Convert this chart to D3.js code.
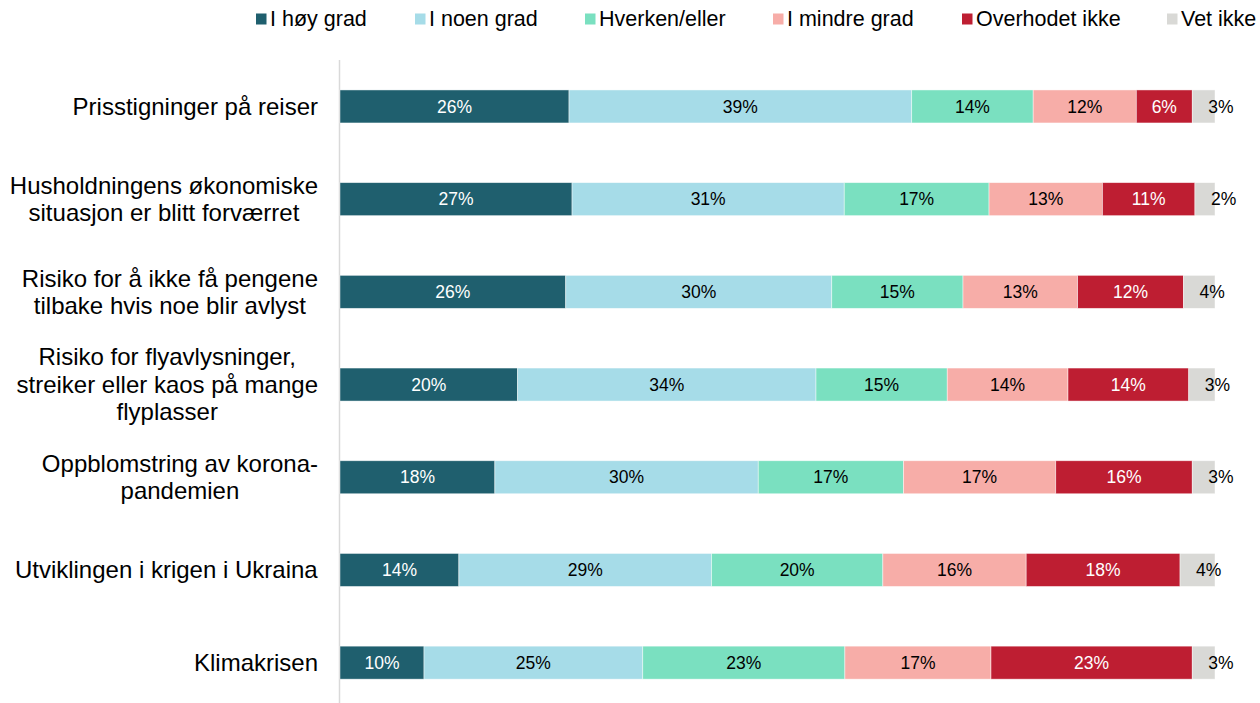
<!DOCTYPE html>
<html>
<head>
<meta charset="utf-8">
<script src="https://cdn.jsdelivr.net/npm/d3@7/dist/d3.min.js"></script>
<style>
  html, body { margin: 0; padding: 0; background: #fff; }
  svg { display: block; font-family: "Liberation Sans", Arial, sans-serif; }
</style>
</head>
<body>
<svg id="chart" width="1260" height="703"></svg>
<script>
const categories = [
  ["Prisstigninger på reiser"],
  ["Husholdningens økonomiske", "situasjon er blitt forværret"],
  ["Risiko for å ikke få pengene", "tilbake hvis noe blir avlyst"],
  ["Risiko for flyavlysninger,", "streiker eller kaos på mange", "flyplasser"],
  ["Oppblomstring av korona-", "pandemien"],
  ["Utviklingen i krigen i Ukraina"],
  ["Klimakrisen"]
];
const seriesNames = ["I høy grad", "I noen grad", "Hverken/eller", "I mindre grad", "Overhodet ikke", "Vet ikke"];
const hoyGrad      = [26.2, 26.6, 25.8, 20.3, 17.7, 13.6, 9.6];
const noenGrad     = [39.2, 31.2, 30.4, 34.1, 30.1, 28.9, 25.0];
const hverkenEller = [13.9, 16.6, 15.0, 15.0, 16.6, 19.6, 23.1];
const mindreGrad   = [11.8, 13.0, 13.1, 13.8, 17.4, 16.4, 16.7];
const overhodetIkke= [ 6.4, 10.6, 12.1, 13.8, 15.6, 17.6, 23.0];
const vetIkke      = [ 2.6,  2.3,  3.6,  3.0,  2.6,  4.0,  2.6];

const colors = ["#1f5f6e", "#a6dce8", "#7ae0c0", "#f7ada8", "#be1e32", "#d9d9d6"];
const labelColors = ["#ffffff", "#000000", "#000000", "#000000", "#ffffff", "#000000"];
const legendX = [256, 415, 585, 773, 962, 1167];

const seriesValues = [hoyGrad, noenGrad, hverkenEller, mindreGrad, overhodetIkke, vetIkke];
const rows = categories.map((c, i) => {
  const r = { key: i };
  seriesNames.forEach((s, j) => r[s] = seriesValues[j][i]);
  return r;
});

const svg = d3.select("#chart");
const x = d3.scaleLinear().domain([0, 1]).range([340, 1215]);
const y = d3.scaleBand().domain(rows.map(r => r.key)).range([60.1, 709]).paddingInner(0.644).paddingOuter(0.322);

const stack = d3.stack().keys(seriesNames).offset(d3.stackOffsetExpand);
const stacked = stack(rows);

// axis line
svg.append("line")
  .attr("x1", 339.5).attr("x2", 339.5)
  .attr("y1", 60).attr("y2", 703)
  .attr("stroke", "#d9d9d9").attr("stroke-width", 1.5);

const groups = svg.selectAll("g.series").data(stacked).enter().append("g").attr("class", "series");
groups.selectAll("rect").data((d, i) => d.map(p => ({ p, i })))
  .enter().append("rect")
  .attr("x", d => x(d.p[0]))
  .attr("y", d => y(d.p.data.key))
  .attr("width", d => x(d.p[1]) - x(d.p[0]))
  .attr("height", y.bandwidth())
  .attr("fill", d => colors[d.i])
  .attr("stroke", "#ffffff").attr("stroke-opacity", 0.6).attr("stroke-width", 0.75);

groups.selectAll("text").data((d, i) => d.map(p => ({ p, i, key: d.key })))
  .enter().append("text")
  .attr("x", d => d.i === 5 ? x(d.p[0]) + 16 : (x(d.p[0]) + x(d.p[1])) / 2)
  .attr("y", d => y(d.p.data.key) + y.bandwidth() / 2)
  .attr("dy", "0.35em")
  .attr("text-anchor", d => d.i === 5 ? "start" : "middle")
  .attr("font-size", 17.5)
  .attr("fill", d => labelColors[d.i])
  .text(d => Math.round(d.p.data[d.key]) + "%");

// category labels
const lineH = 27.5;
categories.forEach((lines, i) => {
  const cy = y(i) + y.bandwidth() / 2;
  const t = svg.append("text")
    .attr("font-size", 24)
    .attr("fill", "#000")
    .attr("text-anchor", "middle");
  lines.forEach((ln, k) => {
    t.append("tspan").attr("x", 0)
      .attr("y", cy + (k - (lines.length - 1) / 2) * lineH)
      .attr("dy", "0.35em").text(ln);
  });
  const w = t.node().getBBox().width;
  t.selectAll("tspan").attr("x", 318 - w / 2);
});

// legend
seriesNames.forEach((s, j) => {
  svg.append("rect").attr("x", legendX[j]).attr("y", 13.5).attr("width", 10.5).attr("height", 11).attr("fill", colors[j]);
  svg.append("text").attr("x", legendX[j] + 14).attr("y", 18.5).attr("dy", "0.35em")
    .attr("font-size", 21.5).attr("fill", "#000").text(s);
});
</script>
</body>
</html>
